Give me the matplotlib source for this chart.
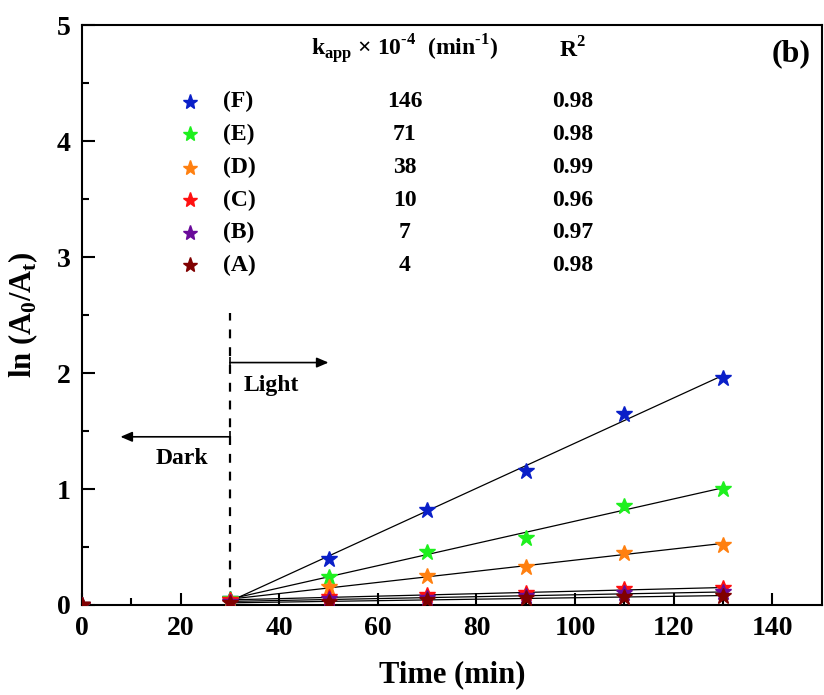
import matplotlib.pyplot as plt
import numpy as np

plt.rcParams['font.family'] = 'Liberation Serif'
plt.rcParams['font.weight'] = 'bold'
plt.rcParams['mathtext.fontset'] = 'custom'
plt.rcParams['mathtext.rm'] = 'Liberation Serif:bold'
plt.rcParams['mathtext.bf'] = 'Liberation Serif:bold'

# irradiation time (min); lamp switched on at 30 min
time = [0, 30, 50, 70, 90, 110, 130]
light_on = 30

labels = ['(F)', '(E)', '(D)', '(C)', '(B)', '(A)']
colors = ['#0a1fc8', '#1ef01e', '#ff8010', '#ff1010', '#6a0a9a', '#800000']
k_app = ['146', '71', '38', '10', '7', '4']
r2 = ['0.98', '0.98', '0.99', '0.96', '0.97', '0.98']

ln_ratio = [
    [0.0, 0.05, 0.40, 0.82, 1.155, 1.65, 1.96],
    [0.0, 0.05, 0.24, 0.46, 0.58, 0.855, 1.00],
    [0.0, 0.04, 0.155, 0.25, 0.33, 0.45, 0.52],
    [0.0, 0.04, 0.07, 0.09, 0.10, 0.14, 0.145],
    [0.0, 0.03, 0.05, 0.06, 0.08, 0.10, 0.11],
    [0.0, 0.02, 0.03, 0.04, 0.06, 0.07, 0.08],
]

fig = plt.figure(figsize=(8.24, 6.95), dpi=100)
ax = fig.add_axes([0.0995, 0.1295, 0.8975, 0.8345])

t = np.array(time)
for y, c in zip(ln_ratio, colors):
    y = np.array(y)
    ax.plot(t, y, linestyle='None', marker='*', color=c, markersize=12, zorder=3)
    # linear fit over the illuminated period
    sel = t >= light_on
    p = np.polyfit(t[sel], y[sel], 1)
    xf = np.array([light_on, t[-1]])
    ax.plot(xf, np.polyval(p, xf), color='black', lw=0.9, zorder=2)

ax.plot([light_on, light_on], [0, 2.52], color='black', ls=(0, (4, 4)), lw=1.6)
arrow = dict(arrowstyle='-|>,head_width=0.3,head_length=0.7',
             color='black', lw=1.2, shrinkA=0, shrinkB=0)
ax.annotate('', xy=(50, 2.09), xytext=(light_on, 2.09), arrowprops=arrow)
ax.annotate('', xy=(7.8, 1.45), xytext=(light_on, 1.45), arrowprops=arrow)
ax.plot([light_on, light_on], [2.09, 1.45], linestyle='None', marker='|',
        color='black', markersize=8, markeredgewidth=1.2)
ax.text(38.3, 1.89, 'Light', fontsize=17, fontweight='bold', ha='center', va='center')
ax.text(20.3, 1.26, 'Dark', fontsize=17, fontweight='bold', ha='center', va='center')

# kinetic parameter table
fs = 17
row_y = [4.34, 4.06, 3.77, 3.49, 3.21, 2.93]
ax.text(65.5, 4.79, 'k$_{\\mathregular{app}}$ × 10$^{\\mathregular{\u2010' + '4}}$  (min$^{\\mathregular{\u2010' + '1}}$)',
        fontsize=fs, fontweight='bold', ha='center', va='center')
ax.text(99.5, 4.79, r'R$^{\mathregular{2}}$', fontsize=fs, fontweight='bold',
        ha='center', va='center')
for yy, lab, c, k, r in zip(row_y, labels, colors, k_app, r2):
    ax.plot([22.0], [yy], marker='*', color=c, markersize=11, linestyle='None')
    ax.text(28.5, yy, lab, fontsize=fs, fontweight='bold', ha='left', va='center')
    ax.text(65.5, yy, k, fontsize=fs, fontweight='bold', ha='center', va='center')
    ax.text(99.5, yy, r, fontsize=fs, fontweight='bold', ha='center', va='center')

ax.text(0.985, 0.975, '(b)', transform=ax.transAxes, fontsize=23, fontweight='bold',
        ha='right', va='top')

ax.set_xlim(0, 150)
ax.set_ylim(0, 5)
ax.set_xticks(np.arange(0, 141, 20))
ax.set_xticks(np.arange(10, 150, 20), minor=True)
ax.set_yticks(np.arange(0, 6, 1))
ax.set_yticks(np.arange(0.5, 5, 1), minor=True)
ax.tick_params(which='both', direction='in', top=False, right=False,
               labelsize=20, width=1.5, pad=8)
ax.tick_params(which='major', length=9)
ax.tick_params(which='minor', length=5)
for s in ax.spines.values():
    s.set_linewidth(1.5)

ax.set_xlabel('Time (min)', fontsize=22, fontweight='bold', labelpad=14)
ax.set_ylabel(r'ln (A$_{\mathregular{0}}$/A$_{\mathregular{t}}$)', fontsize=22,
              fontweight='bold', labelpad=12)

fig.savefig('out.png', dpi=100)
